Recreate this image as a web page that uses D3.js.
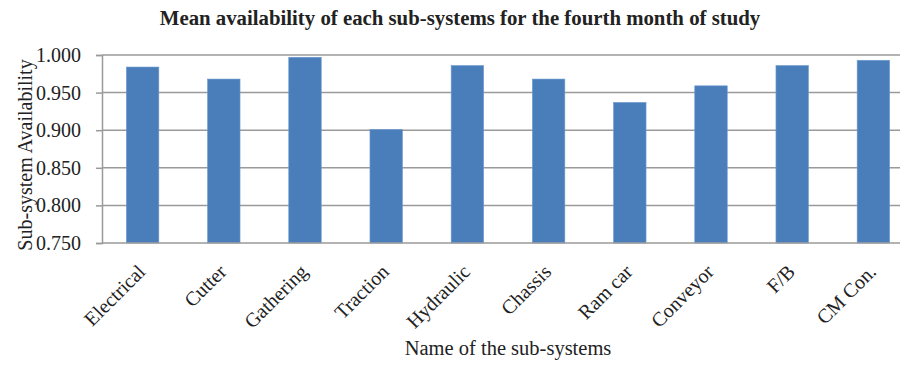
<!DOCTYPE html>
<html>
<head>
<meta charset="utf-8">
<script src="https://cdn.jsdelivr.net/npm/d3@7"></script>
<style>
body{margin:0;background:#fff;overflow:hidden;}
text{font-family:"Liberation Serif","Times New Roman",serif;fill:#222;}
</style>
</head>
<body>
<script>
var categories = ['Electrical','Cutter','Gathering','Traction','Hydraulic','Chassis','Ram car','Conveyor','F/B','CM Con.'];
var availability = [0.984,0.968,0.997,0.901,0.986,0.968,0.937,0.959,0.986,0.993];
var yTicks = [0.750,0.800,0.850,0.900,0.950,1.000];

var chartWidth = 900, chartHeight = 367;
var plotLeft = 102, plotRight = 914, plotTop = 55, plotBottom = 243;

var svg = d3.select('body').append('svg').attr('width',chartWidth).attr('height',chartHeight);

var xScale = d3.scaleBand().domain(categories).range([plotLeft,plotRight]).paddingInner(0.6).paddingOuter(0.3);
var yScale = d3.scaleLinear().domain([0.75,1.0]).range([plotBottom,plotTop]);

//Gridlines
svg.append('g').selectAll('line').data(yTicks.slice(1)).enter()
	.append('line')
	.attr('x1',plotLeft).attr('x2',plotRight)
	.attr('y1',function(d){return yScale(d);}).attr('y2',function(d){return yScale(d);})
	.attr('stroke','#9a9a9a').attr('stroke-width',1.5);

//Bars
svg.append('g').selectAll('rect').data(availability).enter()
	.append('rect')
	.attr('x',function(d,i){return xScale(categories[i]);})
	.attr('y',function(d){return yScale(d);})
	.attr('width',xScale.bandwidth())
	.attr('height',function(d){return plotBottom-yScale(d);})
	.attr('fill','#4a7ebb')
	.attr('stroke','#6f9ad0').attr('stroke-width',0.6);

//Y axis
var yAxis = d3.axisLeft(yScale).tickValues(yTicks).tickFormat(d3.format('.3f')).tickSize(6).tickPadding(15);
var yAxisG = svg.append('g').attr('transform','translate('+plotLeft+',0)').call(yAxis)
	.attr('font-family','Liberation Serif, serif').attr('font-size',20);
yAxisG.select('.domain').attr('stroke','#9a9a9a').attr('stroke-width',1.5);
yAxisG.selectAll('.tick line').attr('stroke','#9a9a9a').attr('stroke-width',1.5);
yAxisG.selectAll('.tick text').attr('fill','#222');

//X axis line
svg.append('line').attr('x1',plotLeft).attr('x2',plotRight).attr('y1',plotBottom).attr('y2',plotBottom)
	.attr('stroke','#9a9a9a').attr('stroke-width',1.5);

//X labels
svg.append('g').selectAll('text').data(categories).enter()
	.append('text')
	.attr('transform',function(d){return 'translate('+(xScale(d)+xScale.bandwidth()/2-1)+','+(plotBottom+25)+') rotate(-45)';})
	.attr('text-anchor','end')
	.attr('dy','0.35em')
	.style('font-size','20px')
	.text(function(d){return d;});

//Titles
svg.append('text').attr('x',460).attr('y',25).attr('text-anchor','middle')
	.style('font-size','20.8px').style('font-weight','bold')
	.text('Mean availability of each sub-systems for the fourth month of study');
svg.append('text').attr('transform','translate(32,155) rotate(-90)')
	.attr('text-anchor','middle').style('font-size','20px')
	.text('Sub-system Availability');
svg.append('text').attr('x',(plotLeft+plotRight)/2).attr('y',355).attr('text-anchor','middle')
	.style('font-size','20.5px')
	.text('Name of the sub-systems');
</script>
</body>
</html>
